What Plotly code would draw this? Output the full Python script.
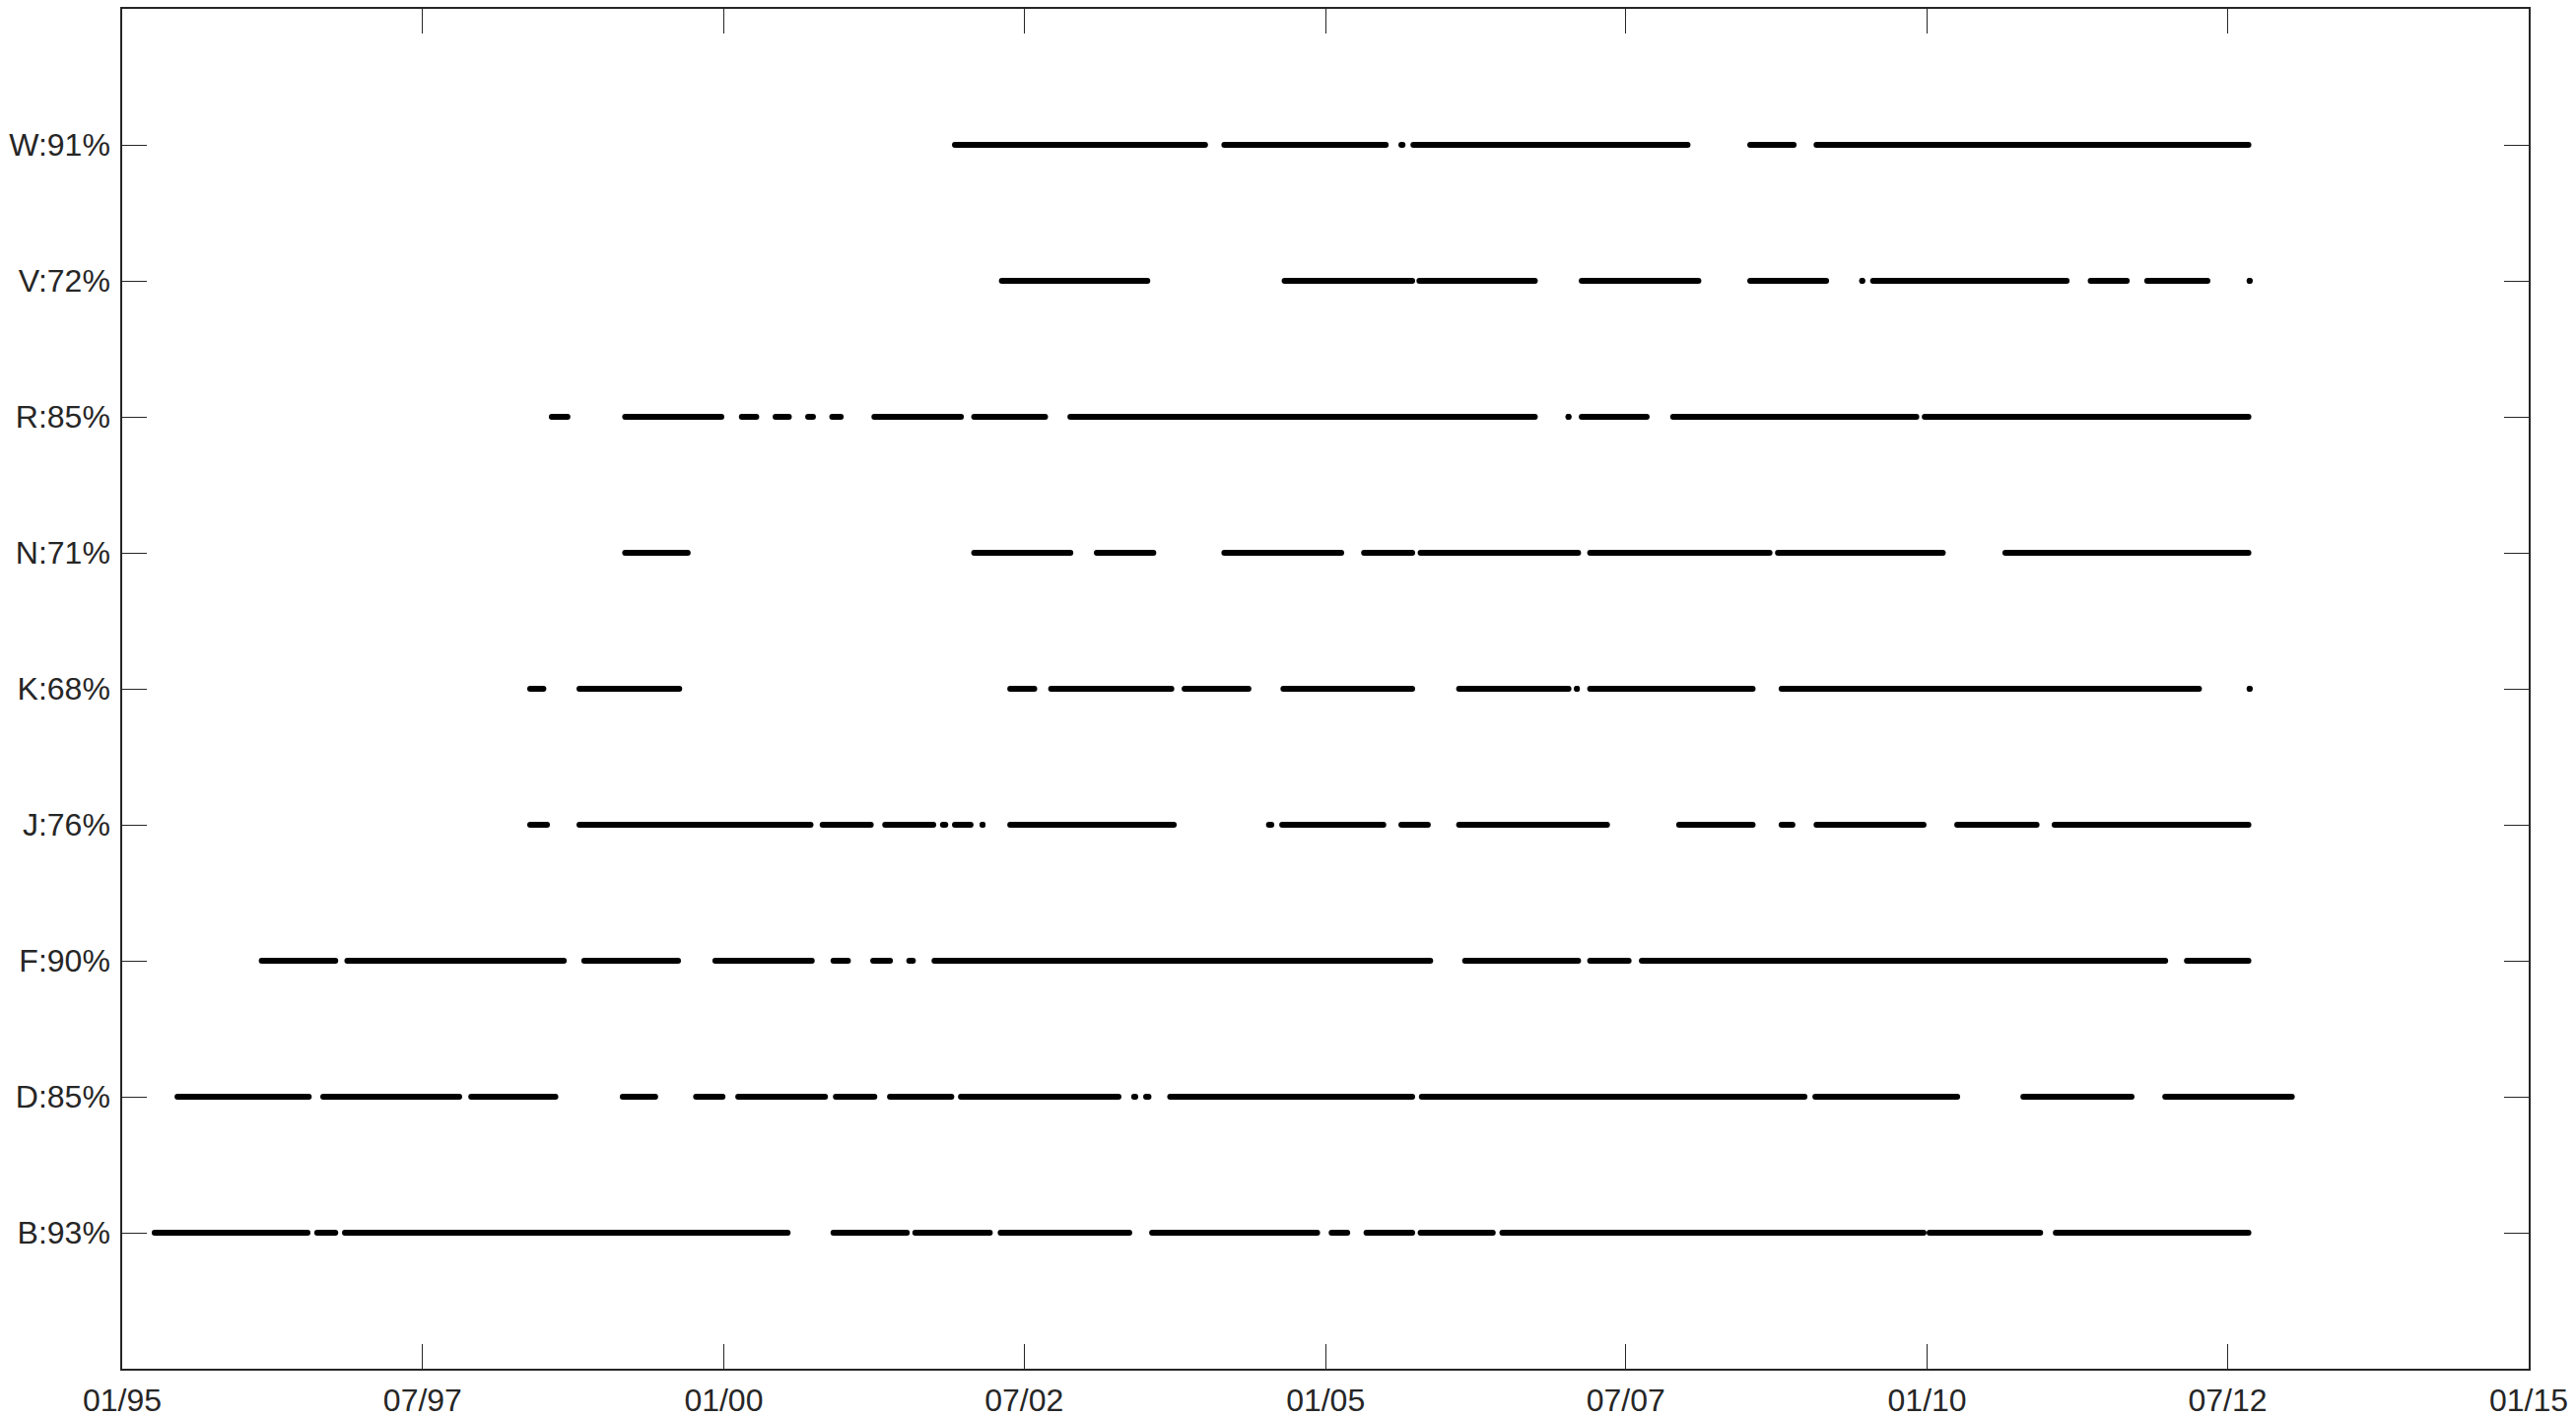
import pandas as pd
import plotly.graph_objects as go

# stations, bottom to top, and their data coverage
STATIONS = ["B", "D", "F", "J", "K", "N", "R", "V", "W"]
COVERAGE = [93, 85, 90, 76, 68, 71, 85, 72, 91]

# (start, end) of each run of data, in decimal years
B_SEGMENTS = [(1995.27, 1996.54), (1996.62, 1996.77), (1996.85, 2000.53), (2000.91, 2001.52),
              (2001.59, 2002.21), (2002.30, 2003.37), (2003.56, 2004.93), (2005.05, 2005.18),
              (2005.34, 2005.72), (2005.79, 2006.39), (2006.47, 2009.97), (2010.02, 2010.94),
              (2011.07, 2012.67)]
D_SEGMENTS = [(1995.46, 1996.55), (1996.67, 1997.80), (1997.90, 1998.60), (1999.16, 1999.43),
              (1999.77, 1999.99), (2000.12, 2000.84), (2000.93, 2001.25), (2001.38, 2001.89),
              (2001.97, 2003.28), (2003.41, 2003.42), (2003.51, 2003.53), (2003.71, 2005.72),
              (2005.80, 2008.98), (2009.07, 2010.25), (2010.80, 2011.70), (2011.98, 2013.03)]
F_SEGMENTS = [(1996.16, 1996.77), (1996.87, 1998.67), (1998.84, 1999.62), (1999.93, 2000.73),
              (2000.91, 2001.03), (2001.24, 2001.38), (2001.54, 2001.57), (2001.75, 2005.87),
              (2006.16, 2007.10), (2007.20, 2007.52), (2007.63, 2011.98), (2012.16, 2012.67)]
J_SEGMENTS = [(1998.39, 1998.53), (1998.80, 2000.72), (2000.82, 2001.22), (2001.34, 2001.74),
              (2001.82, 2001.84), (2001.92, 2002.05), (2002.15, 2002.15), (2002.38, 2003.74),
              (2004.53, 2004.55), (2004.64, 2005.48), (2005.63, 2005.85), (2006.11, 2007.34),
              (2007.94, 2008.55), (2008.79, 2008.88), (2009.08, 2009.97), (2010.25, 2010.91),
              (2011.06, 2012.67)]
K_SEGMENTS = [(1998.39, 1998.50), (1998.80, 1999.63), (2002.38, 2002.58), (2002.72, 2003.72),
              (2003.83, 2004.36), (2004.65, 2005.72), (2006.11, 2007.02), (2007.09, 2007.09),
              (2007.20, 2008.55), (2008.79, 2012.26), (2012.68, 2012.68)]
N_SEGMENTS = [(1999.18, 1999.70), (2002.08, 2002.88), (2003.10, 2003.57), (2004.16, 2005.13),
              (2005.32, 2005.72), (2005.79, 2007.10), (2007.20, 2008.69), (2008.76, 2010.13),
              (2010.65, 2012.67)]
R_SEGMENTS = [(1998.57, 1998.70), (1999.18, 1999.98), (2000.15, 2000.27), (2000.43, 2000.54),
              (2000.70, 2000.74), (2000.90, 2000.97), (2001.25, 2001.97), (2002.08, 2002.67),
              (2002.88, 2006.74), (2007.02, 2007.02), (2007.13, 2007.67), (2007.89, 2009.91),
              (2009.98, 2012.67)]
V_SEGMENTS = [(2002.31, 2003.52), (2004.66, 2005.72), (2005.78, 2006.74), (2007.13, 2008.10),
              (2008.53, 2009.16), (2009.46, 2009.46), (2009.55, 2011.16), (2011.36, 2011.66),
              (2011.83, 2012.33), (2012.68, 2012.68)]
W_SEGMENTS = [(2001.92, 2004.00), (2004.16, 2005.50), (2005.63, 2005.64), (2005.73, 2008.01),
              (2008.53, 2008.89), (2009.08, 2012.67)]

ALL_SEGMENTS = [B_SEGMENTS, D_SEGMENTS, F_SEGMENTS, J_SEGMENTS, K_SEGMENTS,
                N_SEGMENTS, R_SEGMENTS, V_SEGMENTS, W_SEGMENTS]

AXIS_COLOR = "#262626"
FONT = "Liberation Sans, Arial, Helvetica, sans-serif"


def to_date(y):
    yr = int(y)
    start = pd.Timestamp(yr, 1, 1)
    end = pd.Timestamp(yr + 1, 1, 1)
    return start + (end - start) * (y - yr)


fig = go.Figure()
for k, (name, segs) in enumerate(zip(STATIONS, ALL_SEGMENTS), start=1):
    xs, ys = [], []
    for s, e in segs:
        xs += [to_date(s), to_date(e), None]
        ys += [k, k, None]
    fig.add_trace(go.Scatter(
        x=xs, y=ys, mode="lines+markers", name=name,
        line=dict(color="black", width=6),
        marker=dict(color="black", size=6),
        showlegend=False, hoverinfo="skip"))

fig.update_layout(
    width=2614, height=1438,
    margin=dict(l=124, r=48, t=9, b=49),
    paper_bgcolor="white", plot_bgcolor="white",
    font=dict(family=FONT, size=32, color=AXIS_COLOR),
)
fig.update_xaxes(
    type="date", range=["1995-01-01", "2015-01-01"],
    tick0="1995-01-01", dtick="M30", tickformat="%m/%y",
    ticks="inside", ticklen=25, tickwidth=1.3, tickcolor=AXIS_COLOR,
    ticklabelstandoff=3, automargin=False,
    showline=True, linecolor=AXIS_COLOR, linewidth=1.5, mirror="ticks",
    showgrid=False, zeroline=False,
)
fig.update_yaxes(
    range=[0, 10], tickvals=list(range(1, len(STATIONS) + 1)),
    ticktext=[f"{s}:{c}%" for s, c in zip(STATIONS, COVERAGE)],
    ticks="inside", ticklen=25, tickwidth=1.3, tickcolor=AXIS_COLOR,
    ticklabelstandoff=4, automargin=False,
    showline=True, linecolor=AXIS_COLOR, linewidth=1.5, mirror="ticks",
    showgrid=False, zeroline=False,
)

fig.write_html("out.html", config={"displayModeBar": False},
               post_script="document.body.style.margin='0';document.body.style.overflow='hidden';")
